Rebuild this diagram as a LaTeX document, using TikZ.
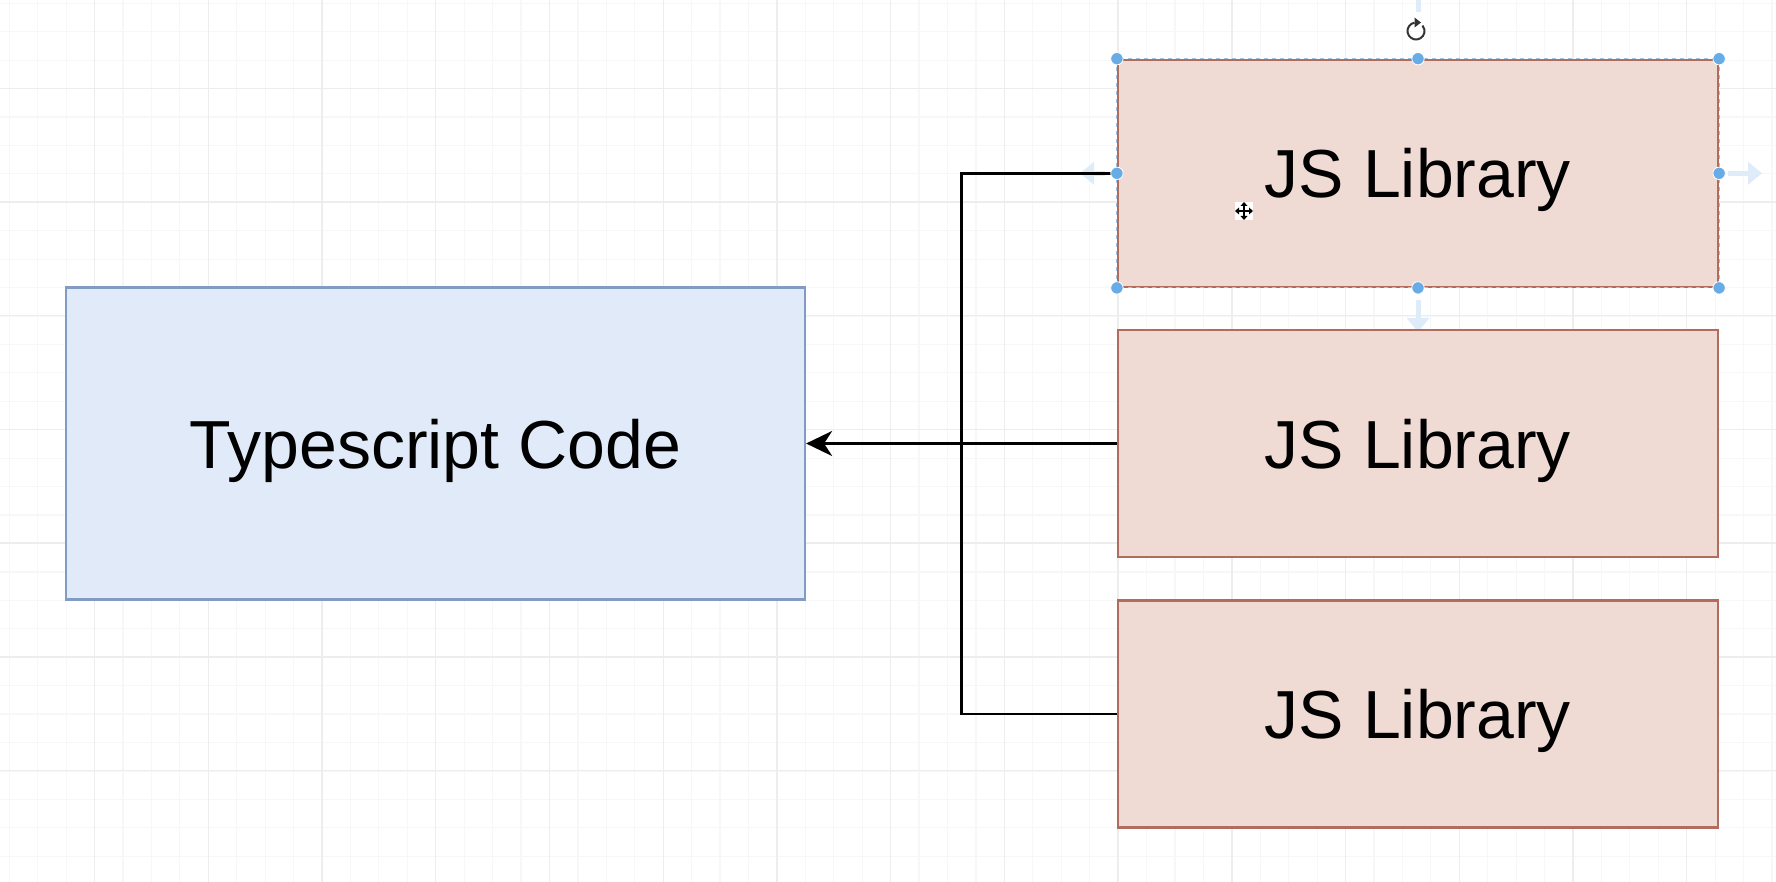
\documentclass[tikz,border=0pt]{standalone}
\usepackage{fontspec}
\setmainfont{Liberation Sans}
\usetikzlibrary{arrows.meta}
\definecolor{gridminor}{RGB}{247,247,247}
\definecolor{gridmajor}{RGB}{237,237,237}
\definecolor{bluefill}{RGB}{224,234,248}
\definecolor{bluedraw}{RGB}{130,155,195}
\definecolor{redfill}{RGB}{240,218,212}
\definecolor{reddraw}{RGB}{178,108,94}
\definecolor{handle}{RGB}{104,172,230}
\definecolor{hoverarrow}{RGB}{222,236,250}
\tikzset{
  minorline/.style={draw=gridminor, line width=1.2pt},
  majorline/.style={draw=gridmajor, line width=1.4pt},
  tsbox/.style={draw=bluedraw, fill=bluefill, line width=2.2pt, minimum width=739pt, minimum height=312pt, inner sep=0pt, text depth=0pt, font=\fontsize{68}{80}\selectfont},
  jsbox/.style={draw=reddraw, fill=redfill, line width=2.2pt, minimum width=600pt, minimum height=227pt, inner sep=0pt, text depth=0pt, font=\fontsize{68}{80}\selectfont},
  conn/.style={draw=black, line width=2.6pt},
  handledot/.style={fill=handle, draw=white, line width=0.8pt},
  hover/.style={draw=hoverarrow, line width=5pt, -{Triangle[length=14pt,width=22pt]}},
}
\begin{document}
\begin{tikzpicture}[x=1pt,y=-1pt]
\useasboundingbox (0,0) rectangle (1776,882);
\fill[white] (0,0) rectangle (1776,882);
% grid
\foreach \i in {0,...,62} {
  \pgfmathsetmacro\xx{9.3+28.43*\i}
  \draw[minorline] (\xx,0) -- (\xx,882);
}
\foreach \i in {0,...,31} {
  \pgfmathsetmacro\yy{3.3+28.43*\i}
  \draw[minorline] (0,\yy) -- (1776,\yy);
}
\foreach \i in {0,...,15} {
  \pgfmathsetmacro\xx{94.6+113.72*\i}
  \draw[majorline] (\xx,0) -- (\xx,882);
}
\foreach \i in {0,...,7} {
  \pgfmathsetmacro\yy{88.3+113.72*\i}
  \draw[majorline] (0,\yy) -- (1776,\yy);
}
% hover arrows (faint)
\draw[draw=hoverarrow, line width=5pt] (1418,0) -- (1418,12);
\draw[hover] (1728,173.3) -- (1762,173.3);
\draw[hover] (1418,300) -- (1418,332);
\draw[hover] (1105,173.3) -- (1080,173.3);
% nodes
\node[tsbox] (ts) at (435.5,443.5) {Typescript Code};
\node[jsbox] (js1) at (1418,173.3) {JS Library};
\node[jsbox] (js2) at (1418,443.5) {JS Library};
\node[jsbox] (js3) at (1418,714) {JS Library};
% connectors
\coordinate (j) at (961.7,443.5);
\draw[conn] (js1.west) -| (j);
\draw[conn] (js3.west) -| (j);
\draw[conn, -{Stealth[length=26pt,width=25pt,inset=8pt]}] (js2.west) -- (ts.east);
% selection outline
\draw[handle!70, line width=1pt, dash pattern=on 4pt off 4pt] (js1.north west) rectangle (js1.south east);
% handles
\foreach \a in {north west,north,north east,west,east,south west,south,south east} {
  \fill[handledot] (js1.\a) circle (6.2pt);
}
% rotate icon
\coordinate (rot) at (1416,31);
\draw[black!80, line width=2pt] (rot) ++(-100:8.5) arc (-100:-400:8.5);
\fill[black!80] (1414.5,17.5) -- (1421,22.6) -- (1414.5,27.5) -- cycle;
% move cursor
\begin{scope}[shift={(1244,211)}]
  \fill[white] (-9,-9) rectangle (9,9);
  \draw[black, line width=1.6pt] (-7,0) -- (7,0) (0,-7) -- (0,7);
  \fill[black] (-9,0) -- (-5,-3.5) -- (-5,3.5) -- cycle;
  \fill[black] (9,0) -- (5,-3.5) -- (5,3.5) -- cycle;
  \fill[black] (0,-9) -- (-3.5,-5) -- (3.5,-5) -- cycle;
  \fill[black] (0,9) -- (-3.5,5) -- (3.5,5) -- cycle;
\end{scope}
\end{tikzpicture}
\end{document}
